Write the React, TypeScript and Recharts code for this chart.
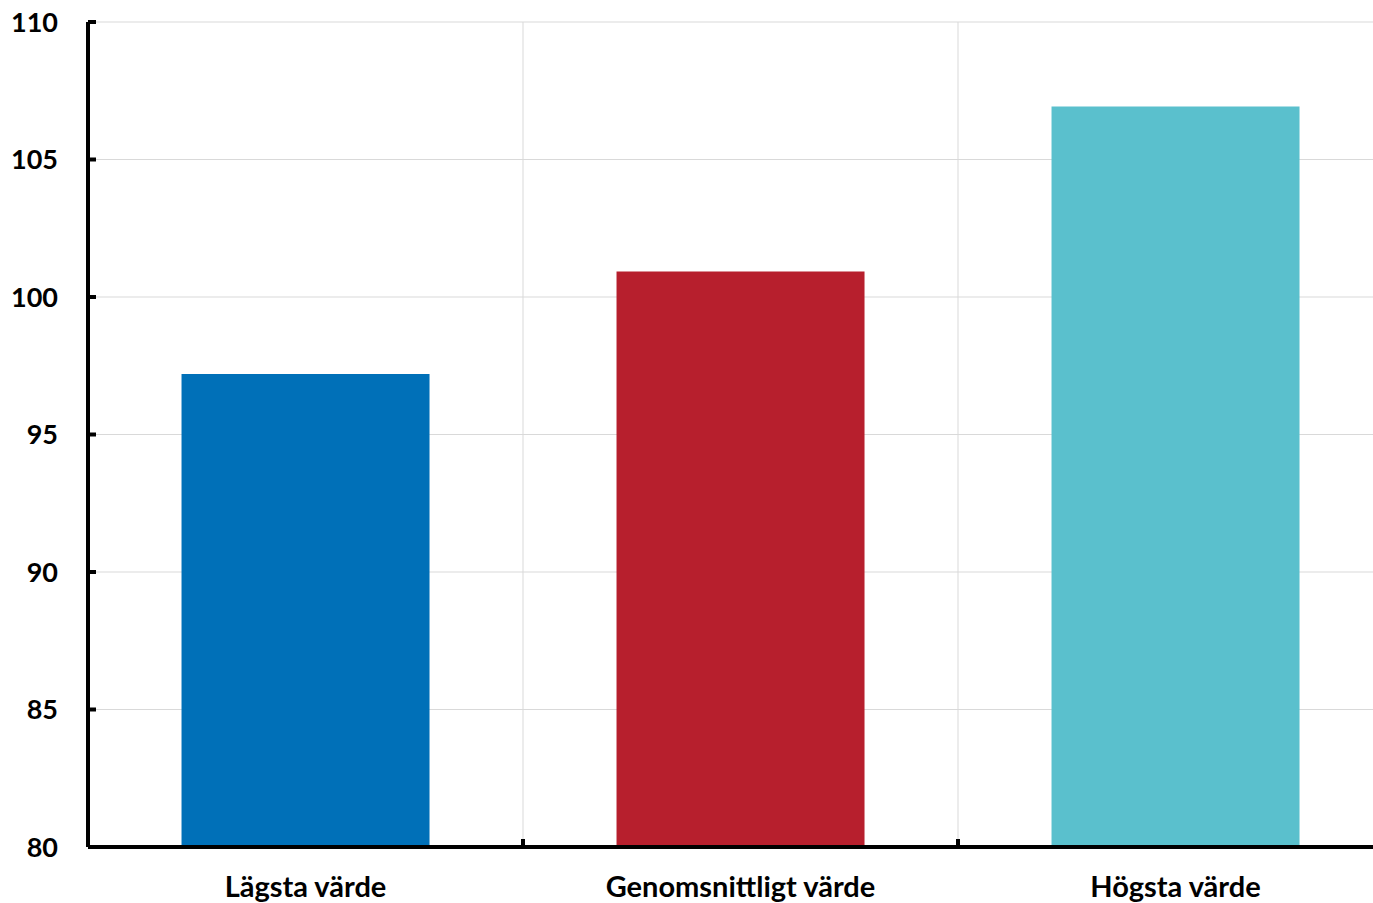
import { BarChart, Bar, Cell, XAxis, YAxis, CartesianGrid } from 'recharts';

const categories = ['Lägsta värde', 'Genomsnittligt värde', 'Högsta värde'];
const values = [97.2, 100.93, 106.93];
const colors = ['#0070b8', '#b71f2d', '#5ac0cd'];
const yTicks = [80, 85, 90, 95, 100, 105, 110];

const data = categories.map((name, i) => ({ name, value: values[i] }));

const CHART_W = 1393;
const CHART_H = 903;
const LEFT = 88;
const BAND = (CHART_W - LEFT) / categories.length;
const FONT = 'Lato, "Open Sans", sans-serif';

const YTick = (props: any) => {
  const { x, y, payload } = props;
  return (
    <g>
      <line x1={x} x2={x + 8} y1={y} y2={y} stroke="#000" strokeWidth={4} />
      <text x={x - 30} y={y} dy="0.36em" textAnchor="end" fontFamily={FONT} fontWeight={700} fontSize={27} fill="#000">
        {payload.value}
      </text>
    </g>
  );
};

const XTick = (props: any) => {
  const { x, y, payload, index } = props;
  return (
    <g>
      {index < categories.length - 1 && (
        <line x1={x + BAND / 2} x2={x + BAND / 2} y1={y} y2={y - 8} stroke="#000" strokeWidth={4} />
      )}
      <text x={x} y={y + 40} dy="0.36em" textAnchor="middle" fontFamily={FONT} fontWeight={700} fontSize={29} fill="#000">
        {payload.value}
      </text>
    </g>
  );
};

export default function App() {
  return (
    <div style={{ position: 'absolute', left: 0, top: 0, width: 1373, height: 903, overflow: 'hidden', background: '#fff' }}>
      <BarChart
        width={CHART_W}
        height={CHART_H}
        data={data}
        margin={{ top: 22, right: 0, bottom: 0, left: 0 }}
        barCategoryGap="21.5%"
      >
        <CartesianGrid
          stroke="#d9d9d9"
          strokeWidth={1}
          verticalCoordinatesGenerator={({ offset }: any) =>
            [1, 2].map((i) => offset.left + (i * offset.width) / categories.length)
          }
        />
        <XAxis
          dataKey="name"
          axisLine={{ stroke: '#000', strokeWidth: 4 }}
          tickLine={false}
          tickSize={0}
          tickMargin={0}
          tick={<XTick />}
          height={56}
          interval={0}
        />
        <YAxis
          domain={[80, 110]}
          ticks={yTicks}
          width={LEFT}
          axisLine={{ stroke: '#000', strokeWidth: 4 }}
          tickLine={false}
          tickSize={0}
          tickMargin={0}
          tick={<YTick />}
          allowDataOverflow
        />
        <Bar dataKey="value" isAnimationActive={false}>
          {data.map((_, i) => (
            <Cell key={`cell-${i}`} fill={colors[i]} />
          ))}
        </Bar>
      </BarChart>
    </div>
  );
}
